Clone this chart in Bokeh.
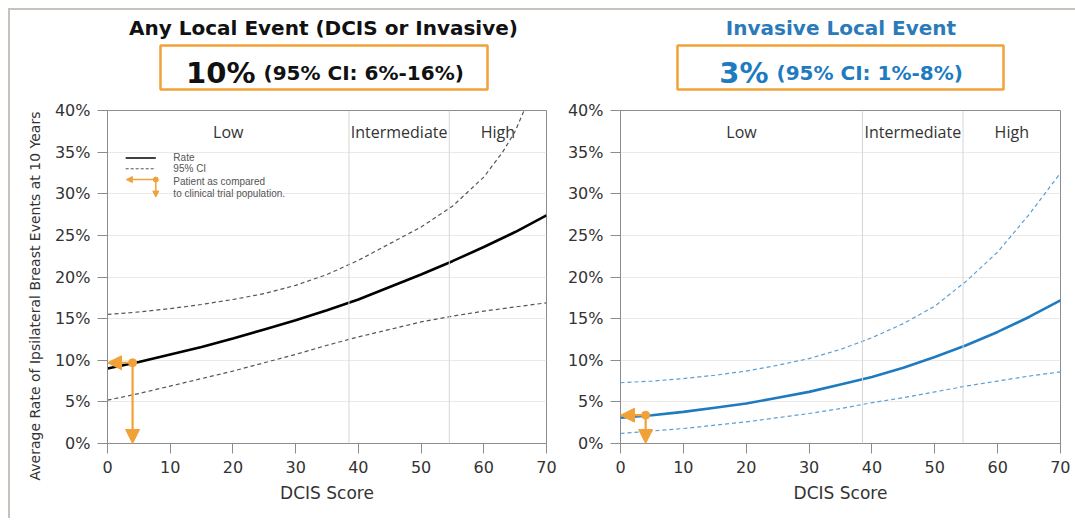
from bokeh.plotting import figure
from bokeh.models import (Range1d, SingleIntervalTicker, PrintfTickFormatter, Span,
                          Arrow, NormalHead, Spacer, Title)
from bokeh.layouts import row, column
from bokeh.core.properties import value
from bokeh.embed import file_html
from bokeh.resources import INLINE

# ---------------- data ----------------
score = [0, 5, 10, 15, 20, 25, 30, 35, 40, 45, 50, 55, 60, 65, 70]

any_rate = [9.0, 9.8, 10.7, 11.6, 12.6, 13.7, 14.8, 16.0, 17.3, 18.8, 20.3, 21.9, 23.6, 25.4, 27.4]
any_lower = [5.2, 6.0, 6.9, 7.8, 8.7, 9.7, 10.7, 11.8, 12.8, 13.7, 14.6, 15.3, 15.9, 16.4, 16.9]
any_upper_score = [0, 5, 10, 15, 20, 25, 30, 35, 40, 45, 50, 55, 60, 63, 65, 67]
any_upper = [15.5, 15.8, 16.2, 16.7, 17.3, 18.0, 19.0, 20.3, 22.0, 24.0, 26.0, 28.5, 32.0, 35.0, 37.5, 41.0]

inv_rate = [3.1, 3.4, 3.8, 4.3, 4.8, 5.5, 6.2, 7.1, 8.0, 9.1, 10.4, 11.8, 13.4, 15.2, 17.2]
inv_lower = [1.2, 1.5, 1.8, 2.2, 2.6, 3.1, 3.6, 4.2, 4.9, 5.5, 6.2, 6.9, 7.5, 8.1, 8.6]
inv_upper = [7.3, 7.5, 7.8, 8.2, 8.7, 9.4, 10.2, 11.3, 12.7, 14.4, 16.5, 19.5, 23.0, 27.5, 32.5]

patient_score = 4
patient_any = 9.7
patient_inv = 3.4

risk_bounds = [38.5, 54.5]
risk_labels = ["Low", "Intermediate", "High"]

titles = ["Any Local Event (DCIS or Invasive)", "Invasive Local Event"]
estimates = ["10%", "3%"]
intervals = ["(95% CI: 6%-16%)", "(95% CI: 1%-8%)"]

y_label = "Average Rate of Ipsilateral Breast Events at 10 Years"
legend_labels = ["Rate", "95% CI", "Patient as compared", "to clinical trial population."]

ORANGE = "#f0a238"
BLUE = "#1f7bbf"
BLUE_LIGHT = "#5b9fd3"
FONT = "DejaVu Sans"
HEADER_H = 82


def header(width, bl, br, title, title_color, est, ci, text_color, title_x, box_l, box_r, split_x):
    h = figure(width=width, height=HEADER_H, x_range=Range1d(bl, width - br),
               y_range=Range1d(HEADER_H, 0),
               output_backend="svg", toolbar_location=None,
               min_border_left=bl, min_border_right=br, min_border_top=0, min_border_bottom=0,
               x_axis_location=None, y_axis_location=None)
    h.grid.visible = False
    h.outline_line_color = None
    h.text(x=[title_x], y=[17], text=[title], text_font=value(FONT), text_font_style="bold",
           text_font_size="20px", text_align="center", text_baseline="middle",
           text_color=title_color)
    h.quad(left=[box_l], right=[box_r], top=[35], bottom=[79], fill_color="white",
           line_color=ORANGE, line_width=2.5)
    h.text(x=[split_x - 4], y=[62], text=[est], text_font=value(FONT), text_font_style="bold",
           text_font_size="29px", text_align="right", text_baseline="alphabetic",
           text_color=text_color)
    h.text(x=[split_x + 4], y=[62], text=[ci], text_font=value(FONT), text_font_style="bold",
           text_font_size="20px", text_align="left", text_baseline="alphabetic",
           text_color=text_color)
    return h


def panel(width, bl, br):
    p = figure(width=width, height=420, x_range=Range1d(0, 70), y_range=Range1d(0, 40),
               min_border_left=bl, min_border_right=br, min_border_top=18, min_border_bottom=69,
               output_backend="svg", toolbar_location=None)
    p.xaxis[0].ticker = SingleIntervalTicker(interval=10)
    p.yaxis[0].ticker = SingleIntervalTicker(interval=5)
    p.ygrid[0].ticker = SingleIntervalTicker(interval=5)
    p.yaxis[0].formatter = PrintfTickFormatter(format="%d%%")
    p.xgrid.visible = False
    p.ygrid.grid_line_color = "#e9e9e9"
    p.outline_line_color = "#8c8c8c"
    for ax in (p.xaxis[0], p.yaxis[0]):
        ax.major_tick_out = 10
        ax.major_tick_in = 0
        ax.minor_tick_out = 0
        ax.minor_tick_in = 0
        ax.axis_line_color = "#8c8c8c"
        ax.major_tick_line_color = "#8c8c8c"
        ax.major_label_text_font = FONT
        ax.major_label_text_font_size = "16px"
        ax.major_label_text_color = "#333333"
        ax.major_label_standoff = 7
        ax.axis_label_text_font = FONT
        ax.axis_label_text_font_style = "normal"
        ax.axis_label_text_color = "#333333"
    p.xaxis[0].axis_label = "DCIS Score"
    p.xaxis[0].axis_label_text_font_size = "17px"
    p.xaxis[0].axis_label_standoff = 7
    for b in risk_bounds:
        p.add_layout(Span(location=b, dimension="height", line_color="#d6d6d6", line_width=1))
    edges = [0] + risk_bounds + [70]
    centers = [(edges[i] + edges[i + 1]) / 2 for i in range(3)]
    p.text(x=centers, y=[37.4] * 3, text=risk_labels, text_font=value("Open Sans"),
           text_font_size="16px", text_align="center", text_baseline="middle",
           text_color="#333333")
    return p


def patient_marker(p, y, size=14, lw=2.2):
    p.add_layout(Arrow(end=NormalHead(size=size, fill_color=ORANGE, line_color=ORANGE),
                       x_start=patient_score, y_start=y, x_end=0, y_end=y,
                       line_color=ORANGE, line_width=lw))
    p.add_layout(Arrow(end=NormalHead(size=size, fill_color=ORANGE, line_color=ORANGE),
                       x_start=patient_score, y_start=y, x_end=patient_score, y_end=0,
                       line_color=ORANGE, line_width=lw))
    p.scatter([patient_score], [y], size=8, color=ORANGE)


# ---------------- left panel ----------------
hl = header(550, 97, 14, titles[0], "#111111", estimates[0], intervals[0], "#111111",
            313, 150, 477, 249)
pl = panel(550, 97, 14)
pl.line(any_upper_score, any_upper, line_color="#555555", line_width=1.2, line_dash="4 3")
pl.line(score, any_lower, line_color="#555555", line_width=1.2, line_dash="4 3")
pl.line(score, any_rate, line_color="black", line_width=2.6)
patient_marker(pl, patient_any)
pl.add_layout(Title(text=y_label, align="left", offset=-37, standoff=18,
                    text_font=FONT, text_font_size="14px", text_font_style="normal",
                    text_color="#333333"), "left")

# legend
pl.line([2.9, 7.7], [34.3, 34.3], line_color="black", line_width=1.5)
pl.line([2.9, 7.7], [33.0, 33.0], line_color="#555555", line_width=1, line_dash="3 2")
pl.add_layout(Arrow(end=NormalHead(size=6, fill_color=ORANGE, line_color=ORANGE),
                    x_start=7.7, y_start=31.7, x_end=3.0, y_end=31.7,
                    line_color=ORANGE, line_width=1.5))
pl.add_layout(Arrow(end=NormalHead(size=6, fill_color=ORANGE, line_color=ORANGE),
                    x_start=7.7, y_start=31.7, x_end=7.7, y_end=29.6,
                    line_color=ORANGE, line_width=1.5))
pl.scatter([7.7], [31.7], size=5, color=ORANGE)
pl.text(x=[10.5] * 4, y=[34.4, 33.05, 31.45, 30.05], text=legend_labels,
        text_font=value("Liberation Sans"), text_font_size="10px", text_align="left",
        text_baseline="middle", text_color="#555555")

# ---------------- right panel ----------------
hr = header(510, 60, 10, titles[1], "#2b7bba", estimates[1], intervals[1], BLUE,
            280.5, 117, 443, 212)
pr = panel(510, 60, 10)
pr.line(score, inv_upper, line_color=BLUE_LIGHT, line_width=1.2, line_dash="4 3")
pr.line(score, inv_lower, line_color=BLUE_LIGHT, line_width=1.2, line_dash="4 3")
pr.line(score, inv_rate, line_color=BLUE, line_width=2.6)
patient_marker(pr, patient_inv)

GRAY = {"background-color": "#c9c2bc"}
top_bar = Spacer(width=1067, height=2, styles=GRAY)
left_bar = Spacer(width=2, height=508, styles=GRAY)
inner = column(top_bar, row(left_bar, column(hl, pl), column(hr, pr)))
layout = column(Spacer(width=1, height=8), row(Spacer(width=8, height=1), inner))

open("out.html", "w").write(file_html(layout, INLINE))
